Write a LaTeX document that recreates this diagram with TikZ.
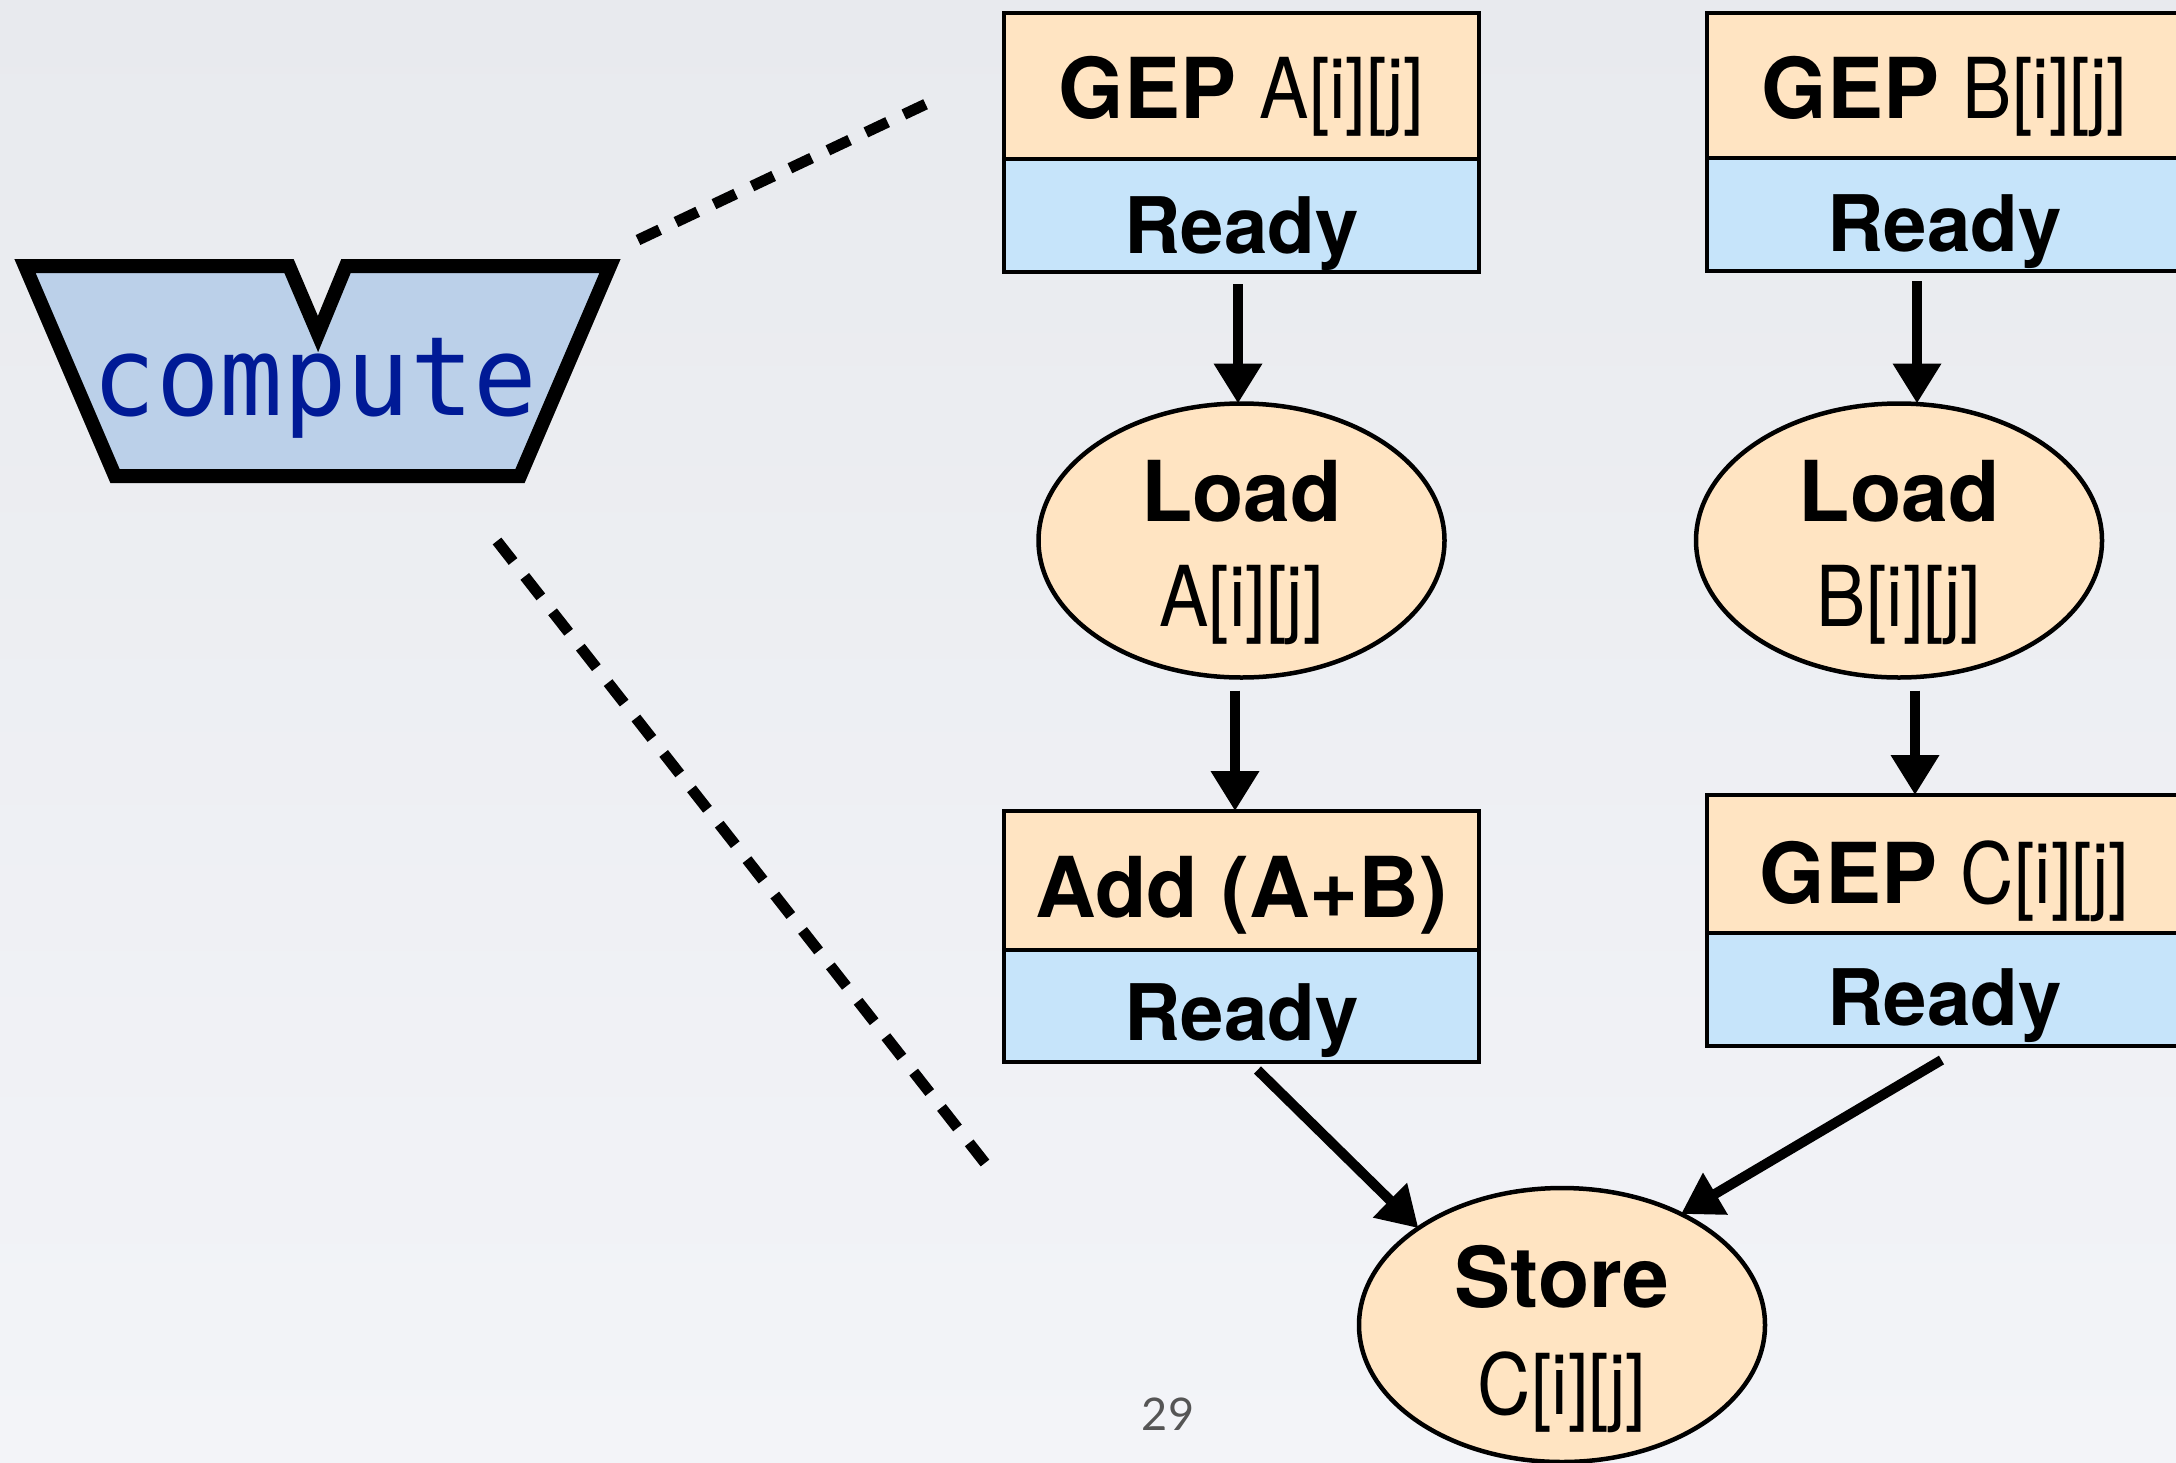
\documentclass[tikz,border=0pt]{standalone}
\usepackage{fontspec}
\usepackage{graphicx}
\setmainfont{TeX Gyre Heros}
\newfontfamily\monofam{DejaVu Sans Mono}
\newfontfamily\numfam{Lato}
\usetikzlibrary{arrows.meta,shapes.geometric,calc}

\definecolor{bgtop}{HTML}{E8EAEE}
\definecolor{bgbot}{HTML}{F3F4F8}
\definecolor{opfill}{HTML}{FFE4C2}
\definecolor{rdyfill}{HTML}{C6E4FA}
\definecolor{cmpfill}{HTML}{BBD0E9}
\definecolor{cmptext}{HTML}{001A96}
\definecolor{pagenum}{HTML}{555555}

\newcommand{\opsize}{\fontsize{84}{105}\selectfont}
\newcommand{\rdysize}{\fontsize{78}{90}\selectfont\bfseries}
\newcommand{\lite}[1]{\scalebox{0.88}[1]{#1}}

\begin{document}
\begin{tikzpicture}[x=1pt,y=-1pt,
  header/.style={draw=black, line width=4pt, fill=opfill, outer sep=0pt,
    minimum width=475pt, minimum height=146pt, inner sep=0pt,
    anchor=north west, text height=64pt, text depth=0pt, font=\opsize},
  readypart/.style={draw=black, line width=4pt, fill=rdyfill, outer sep=0pt,
    minimum width=475pt, minimum height=113pt, inner sep=0pt,
    anchor=north west, text height=72pt, text depth=0pt, font=\rdysize},
  memop/.style={draw=black, line width=4.5pt, fill=opfill, ellipse, outer sep=0pt,
    minimum width=406pt, minimum height=274pt, inner sep=0pt},
  oplabel/.style={align=center, inner sep=0pt, font=\opsize},
  arr/.style={line width=10pt, -{Triangle[width=46pt,length=40pt]}},
  dashline/.style={line width=11pt, line cap=butt, draw=black}]

\useasboundingbox (0,0) rectangle (2176,1462);
\clip (0,0) rectangle (2176,1462);
\shade[top color=bgtop, bottom color=bgbot] (0,0) rectangle (2176,1462);

% the compute block
\draw[line width=14pt, line join=miter, fill=cmpfill]
  (25,266) -- (289,266) -- (318,334) -- (346,266) -- (610,266)
  -- (520,476) -- (115,476) -- cycle;
\node[anchor=base, inner sep=0pt, text=cmptext,
      font=\monofam\fontsize{110}{120}\selectfont] (compute) at (315,415)
  {\scalebox{0.96}[1]{compute}};

% zoom guides
\coordinate (zt1) at (638,240);
\coordinate (zt2) at (926,104);
\coordinate (zb1) at (497,541);
\coordinate (zb2) at (985,1163);
\draw[dashline, dash pattern=on 24pt off 18pt] (zt1) -- (zt2);
\draw[dashline, dash pattern=on 26pt off 19pt] (zb1) -- (zb2);

% address computations
\node[header] (gepA) at (1004,13) {\textbf{GEP} \lite{A[i][j]}};
\node[readypart, text height=75pt] (readyA) at (1004,159) {Ready};
\node[header] (gepB) at (1707,13) {\textbf{GEP} \lite{B[i][j]}};
\node[readypart, text height=73pt] (readyB) at (1707,158) {Ready};

% loads
\node[memop] (loadA) at (1241.5,540.5) {};
\node[oplabel, yshift=-12pt] (loadAtxt) at (loadA.center) {\textbf{Load}\\\lite{A[i][j]}};
\node[memop] (loadB) at (1899,540.5) {};
\node[oplabel, yshift=-12pt] (loadBtxt) at (loadB.center) {\textbf{Load}\\\lite{B[i][j]}};

% add and the store address
\node[header, minimum height=139pt, text height=73pt] (addop) at (1004,811) {\textbf{Add (A+B)}};
\node[readypart, minimum height=112pt, text height=68pt] (readyAdd) at (1004,950) {Ready};
\node[header, minimum height=138pt, text height=78pt] (gepC) at (1707,795) {\textbf{GEP} \lite{C[i][j]}};
\node[readypart, text height=71pt] (readyC) at (1707,933) {Ready};

% store
\node[memop] (store) at (1562,1325) {};
\node[oplabel, yshift=-14pt] (storetxt) at (store.center) {\textbf{Store}\\[2pt]\lite{C[i][j]}};

% dependences
\draw[arr] ($(readyA.south)+(-3.5,12)$) -- ($(loadA.north)+(-3.5,0)$);
\draw[arr] ($(loadA.south)+(-6.5,13)$) -- ($(addop.north)+(-6.5,0)$);
\draw[arr] ($(readyB.south)+(-27.5,10)$) -- ($(loadB.north)+(18,0)$);
\draw[arr] ($(loadB.south)+(16,13)$) -- ($(gepC.north)+(-29.5,0)$);
\draw[arr] ($(readyAdd.south)+(16,8)$) -- (store.146.8);
\draw[arr] ($(readyC.south)+(-3,14)$) -- (store.43.8);

% slide number
\node[anchor=base, inner sep=0pt, text=pagenum,
      font=\numfam\fontsize{45}{50}\selectfont] (pnum) at (1168,1430) {29};
\end{tikzpicture}
\end{document}
